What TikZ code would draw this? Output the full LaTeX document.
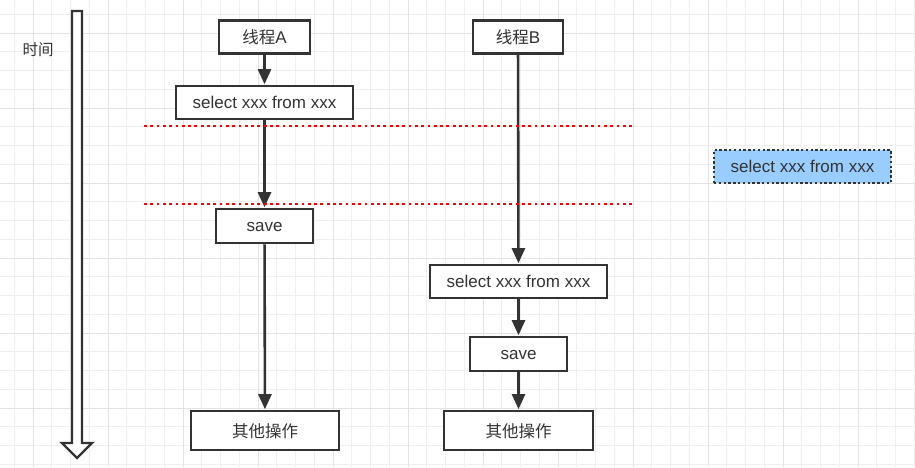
\documentclass[tikz,border=0pt]{standalone}
\usepackage{fontspec}
\setmainfont{Liberation Sans}
\newfontfamily\cjk{Noto Sans CJK SC}
\usetikzlibrary{arrows.meta}
\definecolor{ink}{HTML}{333333}
\definecolor{gridminor}{HTML}{EFEFEF}
\definecolor{gridmajor}{HTML}{E3E3E3}
\definecolor{bluefill}{HTML}{99CCFF}
\tikzset{
  box/.style={draw=ink, line width=2.6pt, fill=white, text=ink, minimum height=33pt, inner sep=0pt, text height=13pt, text depth=2pt, font=\fontsize{17}{19}\selectfont},
  cjkbox/.style={box, text height=14pt, text depth=1pt},
  flow/.style={draw=ink, line width=2.6pt, -{Triangle[length=15pt,width=13pt]}, shorten >=0.5pt},
  redline/.style={draw=red, line width=2.8pt, dash pattern=on 2.8pt off 3.5pt},
  timearrow/.style={draw=ink, line width=2.4pt, fill=white, line join=miter}
}
\begin{document}
\begin{tikzpicture}[x=1pt,y=-1pt]
\useasboundingbox (0,0) rectangle (915,467);
\fill[white] (0,0) rectangle (915,467);
% grid
\foreach \i in {-1,...,48} {\draw[gridminor, line width=0.8pt] ({33+18.75*\i},0) -- ({33+18.75*\i},467);}
\foreach \i in {-1,...,24} {\draw[gridminor, line width=0.8pt] (0,{33+18.75*\i}) -- (915,{33+18.75*\i});}
\foreach \i in {0,...,12} {\draw[gridmajor, line width=1pt] ({33+75*\i},0) -- ({33+75*\i},467);}
\foreach \i in {0,...,6} {\draw[gridmajor, line width=1pt] (0,{33+75*\i}) -- (915,{33+75*\i});}
% time arrow
\draw[timearrow] (72,11) -- (82,11) -- (82,443) -- (92,443) -- (77,458) -- (62,443) -- (72,443) -- cycle;
\node[text=ink, font=\cjk\fontsize{15.5}{17}\selectfont] (time) at (38,49.5) {时间};
% thread A
\node[cjkbox, minimum width=91pt] (ta) at (264.5,37) {{\cjk\fontsize{16.5}{18}\selectfont 线程}A};
\node[box, minimum width=177pt] (sa) at (264.5,102.5) {select xxx from xxx};
\node[box, minimum width=97pt, minimum height=34pt] (va) at (264.5,226) {save};
\node[cjkbox, minimum width=148pt, minimum height=39pt, font=\cjk\fontsize{16.5}{18}\selectfont] (oa) at (265,430.5) {其他操作};
% thread B
\node[cjkbox, minimum width=90pt] (tb) at (518,37) {{\cjk\fontsize{16.5}{18}\selectfont 线程}B};
\node[box, minimum width=177pt] (sb) at (518.5,281.5) {select xxx from xxx};
\node[box, minimum width=97pt, minimum height=34pt] (vb) at (518.5,354) {save};
\node[cjkbox, minimum width=149pt, minimum height=39pt, font=\cjk\fontsize{16.5}{18}\selectfont] (ob) at (518.5,430.5) {其他操作};
% red dotted lines
\coordinate (r1a) at (144,126);
\coordinate (r1b) at (634,126);
\coordinate (r2a) at (144,204);
\coordinate (r2b) at (634,204);
% connectors
\draw[flow] (ta) -- (sa);
\draw[flow] (sa) -- (va);
\draw[flow] (va) -- (oa);
\draw[flow] (tb) -- (sb);
\draw[flow] (sb) -- (vb);
\draw[flow] (vb) -- (ob);
\draw[redline] (r1a) -- (r1b);
\draw[redline] (r2a) -- (r2b);
% blue box
\node[box, draw=ink, fill=bluefill, line width=2.4pt, dash pattern=on 2.4pt off 2.4pt, minimum width=177pt] (sc) at (802.5,166.5) {select xxx from xxx};
\end{tikzpicture}
\end{document}
